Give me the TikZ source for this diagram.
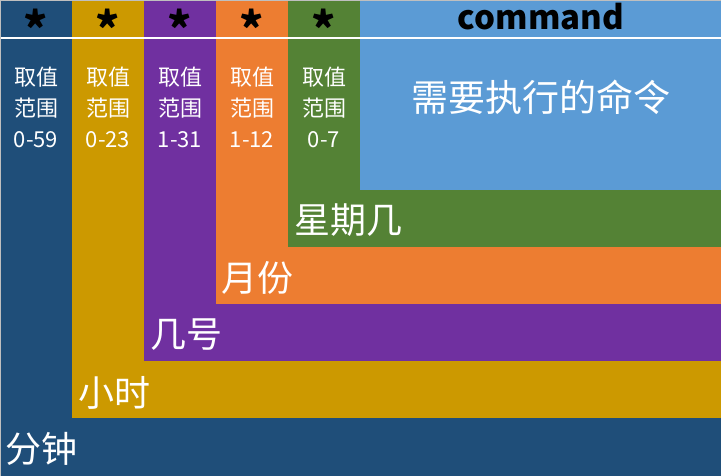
\documentclass[tikz,border=0pt]{standalone}
\usepackage{fontspec}
\setmainfont{Noto Sans CJK SC}
\usepackage{tikz}

\definecolor{minblue}{HTML}{1F4E79}
\definecolor{hourgold}{HTML}{CC9900}
\definecolor{daypurple}{HTML}{7030A0}
\definecolor{monthorange}{HTML}{ED7D31}
\definecolor{weekgreen}{HTML}{548235}
\definecolor{cmdblue}{HTML}{5B9BD5}

\begin{document}
\begin{tikzpicture}[x=1pt, y=-1pt,
  rangebox/.style={text=white, align=center, inner sep=0pt, font=\fontsize{22}{31}\selectfont},
  fieldname/.style={text=white, anchor=west, inner sep=0pt, font=\fontsize{36}{40}\selectfont},
  starmark/.style={text=black, anchor=base, inner sep=0pt, font=\fontsize{46}{46}\selectfont\bfseries}]
  \useasboundingbox (0,0) rectangle (721,476);
  % nested fields, drawn from the outside in
  \filldraw[fill=minblue, draw=none] (0,0) rectangle (721,476);
  \filldraw[fill=hourgold, draw=none] (72,0) rectangle (721,418);
  \filldraw[fill=daypurple, draw=none] (144,0) rectangle (721,361);
  \filldraw[fill=monthorange, draw=none] (216,0) rectangle (721,304);
  \filldraw[fill=weekgreen, draw=none] (288,0) rectangle (721,247);
  \filldraw[fill=cmdblue, draw=none] (360,0) rectangle (721,190);
  \draw[white, line width=1.2pt] (0,38) -- (721,38);
  \draw[black!25, line width=1.5pt] (0,476) -- (0,0) -- (721,0);
  % header row
  \node[starmark] (starMin) at (36,47) {*};
  \node[starmark] (starHour) at (108,47) {*};
  \node[starmark] (starDay) at (180,47) {*};
  \node[starmark] (starMonth) at (252,47) {*};
  \node[starmark] (starWeek) at (324,47) {*};
  \node[anchor=base, inner sep=0pt, font=\fontsize{33}{33}\selectfont\bfseries] (cmdHead) at (541,30) {command};
  % value ranges
  \node[rangebox] (rangeMin) at (36,107) {取值\\范围\\0-59};
  \node[rangebox] (rangeHour) at (108,107) {取值\\范围\\0-23};
  \node[rangebox] (rangeDay) at (180,107) {取值\\范围\\1-31};
  \node[rangebox] (rangeMonth) at (252,107) {取值\\范围\\1-12};
  \node[rangebox] (rangeWeek) at (324,107) {取值\\范围\\0-7};
  \node[fieldname, anchor=center, font=\fontsize{37}{40}\selectfont] (cmdText) at (541,97) {需要执行的命令};
  % field names
  \node[fieldname] (nameWeek) at (294,220) {星期几};
  \node[fieldname] (nameMonth) at (221,278) {月份};
  \node[fieldname] (nameDay) at (150,335) {几号};
  \node[fieldname] (nameHour) at (78,393) {小时};
  \node[fieldname] (nameMin) at (5,449) {分钟};
\end{tikzpicture}
\end{document}
